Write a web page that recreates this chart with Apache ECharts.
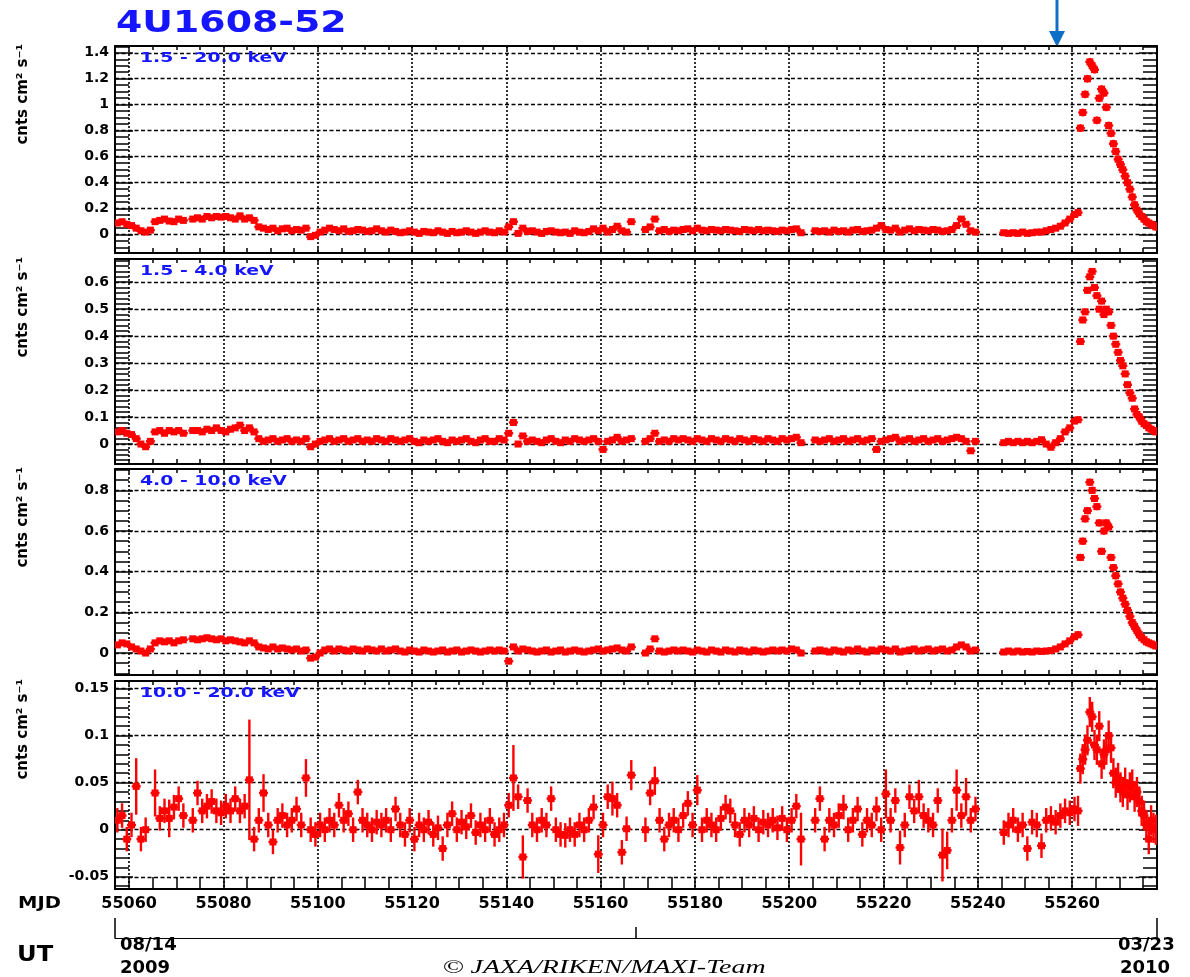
<!DOCTYPE html>
<html>
<head>
<meta charset="utf-8">
<script src="https://cdn.jsdelivr.net/npm/echarts@6/dist/echarts.min.js"></script>
<style>
  html, body { margin: 0; padding: 0; background: #fff; }
  #chart { width: 1190px; height: 977px; }
</style>
</head>
<body>
<div id="chart"></div>
<script>
// ---- time bins (MJD) ----
const dayStart = 55057, dayEnd = 55260;   // 1-day bins
const peakStart = 55261, peakEnd = 55278; // half-day bins over the outburst
const xMin = 55057, xMax = 55278;         // 2009-08-14 .. 2010-03-23
const xMajor = [55060, 55080, 55100, 55120, 55140, 55160, 55180, 55200, 55220, 55240, 55260];
const utTicks = [55057, 55167.5, 55278];

const dailyMjd = [];
for (let d = dayStart; d <= dayEnd; d++) dailyMjd.push(d + 0.5);
const peakMjd = [];
for (let d = peakStart; d < peakEnd; d += 0.5) peakMjd.push(d + 0.25);

const bandNames = ['1.5 - 20.0 keV', '1.5 - 4.0 keV', '4.0 - 10.0 keV', '10.0 - 20.0 keV'];

// ---- 1.5-20 keV ----
const band1Daily = [
  0.09, 0.10, 0.08, 0.07, 0.05, 0.03, 0.02, 0.035, 0.10, 0.11,
  0.12, 0.105, 0.10, 0.12, 0.11, null, 0.12, 0.13, 0.12, 0.14,
  0.13, 0.14, 0.135, 0.14, 0.13, 0.12, 0.145, 0.12, 0.13, 0.11,
  0.06, 0.05, 0.04, 0.05, 0.03, 0.045, 0.05, 0.03, 0.04, 0.035,
  0.05, -0.015, -0.005, 0.02, 0.035, 0.05, 0.04, 0.03, 0.045, 0.025,
  0.03, 0.04, 0.035, 0.025, 0.03, 0.045, 0.03, 0.02, 0.035, 0.025,
  0.015, 0.02, 0.03, 0.02, 0.01, 0.025, 0.02, 0.015, 0.03, 0.02,
  0.01, 0.025, 0.015, 0.02, 0.03, 0.02, 0.01, 0.02, 0.03, 0.02,
  0.015, 0.03, 0.02, 0.06, 0.10, 0.01, 0.05, 0.025, 0.03, 0.02,
  0.01, 0.025, 0.03, 0.02, 0.015, 0.02, 0.01, 0.03, 0.02, 0.015,
  0.025, 0.045, 0.03, 0.05, 0.02, 0.04, 0.065, 0.03, 0.02, 0.10,
  null, null, 0.04, 0.06, 0.12, 0.03, 0.04, 0.025, 0.035, 0.03,
  0.04, 0.045, 0.03, 0.05, 0.035, 0.03, 0.04, 0.035, 0.03, 0.04,
  0.035, 0.03, 0.025, 0.04, 0.035, 0.03, 0.04, 0.03, 0.035, 0.03,
  0.025, 0.035, 0.03, 0.04, 0.045, 0.015, null, null, 0.03, 0.025,
  0.03, 0.02, 0.035, 0.025, 0.03, 0.02, 0.035, 0.04, 0.025, 0.03,
  0.035, 0.05, 0.07, 0.04, 0.035, 0.05, 0.02, 0.035, 0.045, 0.03,
  0.04, 0.035, 0.03, 0.04, 0.035, 0.025, 0.03, 0.04, 0.07, 0.12,
  0.08, 0.03, 0.02, null, null, null, null, null, 0.015, 0.01,
  0.015, 0.01, 0.02, 0.01, 0.015, 0.02, 0.02, 0.03, 0.04, 0.05,
  0.065, 0.09, 0.12, 0.155
];
const band1Peak = [
  0.17, 0.82, 0.94, 1.08, 1.20, 1.33, 1.30, 1.27, 0.88, 1.05,
  1.12, 1.09, 0.98, 0.84, 0.78, 0.70, 0.64, 0.58, 0.54, 0.50,
  0.45, 0.40, 0.35, 0.29, 0.23, 0.19, 0.16, 0.14, 0.12, 0.10,
  0.09, 0.08, 0.07, 0.06
];

// ---- 1.5-4 keV ----
const band2Daily = [
  0.045, 0.05, 0.04, 0.035, 0.02, 0.0, -0.01, 0.01, 0.045, 0.05,
  0.04, 0.05, 0.045, 0.05, 0.04, null, 0.05, 0.05, 0.045, 0.055,
  0.05, 0.06, 0.05, 0.045, 0.055, 0.06, 0.07, 0.05, 0.06, 0.045,
  0.02, 0.01, 0.015, 0.02, 0.01, 0.015, 0.02, 0.01, 0.015, 0.01,
  0.02, -0.01, 0.0, 0.01, 0.015, 0.02, 0.01, 0.015, 0.02, 0.01,
  0.015, 0.02, 0.01, 0.015, 0.01, 0.02, 0.015, 0.01, 0.02, 0.015,
  0.01, 0.015, 0.02, 0.01, 0.005, 0.015, 0.01, 0.015, 0.02, 0.01,
  0.005, 0.015, 0.01, 0.015, 0.02, 0.01, 0.005, 0.015, 0.02, 0.01,
  0.01, 0.02, 0.015, 0.04, 0.08, 0.0, 0.03, 0.01, 0.015, 0.01,
  0.005, 0.015, 0.02, 0.01, 0.005, 0.015, 0.01, 0.02, 0.015, 0.01,
  0.015, 0.02, 0.01, -0.02, 0.01, 0.015, 0.025, 0.01, 0.015, 0.02,
  null, null, 0.01, 0.02, 0.04, 0.01, 0.015, 0.01, 0.02, 0.015,
  0.02, 0.015, 0.01, 0.02, 0.015, 0.01, 0.02, 0.015, 0.01, 0.02,
  0.015, 0.01, 0.02, 0.015, 0.01, 0.02, 0.015, 0.01, 0.02, 0.015,
  0.01, 0.02, 0.015, 0.02, 0.025, 0.005, null, null, 0.015, 0.01,
  0.015, 0.02, 0.01, 0.015, 0.02, 0.01, 0.015, 0.02, 0.01, 0.015,
  0.02, -0.02, 0.01, 0.015, 0.02, 0.025, 0.01, 0.015, 0.02, 0.01,
  0.015, 0.02, 0.01, 0.015, 0.02, 0.01, 0.015, 0.02, 0.025, 0.02,
  0.01, -0.025, 0.01, null, null, null, null, null, 0.005, 0.01,
  0.005, 0.01, 0.005, 0.01, 0.005, 0.01, 0.016, 0.0, -0.012, 0.005,
  0.02, 0.045, 0.06, 0.085
];
const band2Peak = [
  0.09, 0.38, 0.46, 0.49, 0.57, 0.62, 0.64, 0.58, 0.55, 0.50,
  0.53, 0.48, 0.50, 0.49, 0.44, 0.40, 0.37, 0.34, 0.31, 0.29,
  0.26, 0.22, 0.19, 0.17, 0.13, 0.11, 0.10, 0.085, 0.075, 0.07,
  0.06, 0.055, 0.05, 0.045
];

// ---- 4-10 keV ----
const band3Daily = [
  0.04, 0.05, 0.045, 0.03, 0.02, 0.01, 0.0, 0.02, 0.05, 0.06,
  0.055, 0.06, 0.05, 0.06, 0.065, null, 0.07, 0.065, 0.07, 0.075,
  0.07, 0.065, 0.07, 0.06, 0.065, 0.06, 0.055, 0.05, 0.06, 0.05,
  0.03, 0.025, 0.02, 0.03, 0.02, 0.025, 0.02, 0.015, 0.02, 0.01,
  0.015, -0.025, -0.02, 0.0, 0.015, 0.02, 0.01, 0.02, 0.015, 0.01,
  0.02, 0.015, 0.01, 0.02, 0.015, 0.01, 0.02, 0.01, 0.015, 0.02,
  0.01, 0.005, 0.015, 0.01, 0.005, 0.015, 0.01, 0.005, 0.01, 0.015,
  0.005, 0.01, 0.015, 0.005, 0.01, 0.015, 0.01, 0.005, 0.01, 0.015,
  0.01, 0.015, 0.01, -0.04, 0.03, 0.01, 0.02, 0.015, 0.01, 0.005,
  0.01, 0.015, 0.005, 0.01, 0.015, 0.005, 0.01, 0.015, 0.01, 0.005,
  0.01, 0.015, 0.02, 0.01, 0.015, 0.02, 0.025, 0.015, 0.01, 0.03,
  null, null, 0.0, 0.02, 0.07, 0.01, 0.005, 0.01, 0.015, 0.01,
  0.015, 0.01, 0.005, 0.015, 0.01, 0.005, 0.015, 0.01, 0.005, 0.015,
  0.01, 0.005, 0.015, 0.01, 0.005, 0.015, 0.01, 0.005, 0.01, 0.015,
  0.01, 0.015, 0.01, 0.02, 0.015, 0.0, null, null, 0.01, 0.015,
  0.01, 0.005, 0.015, 0.01, 0.005, 0.015, 0.01, 0.02, 0.01, 0.005,
  0.015, 0.01, 0.02, 0.015, 0.01, 0.02, 0.005, 0.01, 0.015, 0.02,
  0.01, 0.015, 0.02, 0.01, 0.015, 0.02, 0.01, 0.015, 0.03, 0.04,
  0.03, 0.01, 0.015, null, null, null, null, null, 0.005, 0.01,
  0.005, 0.01, 0.005, 0.008, 0.005, 0.01, 0.008, 0.01, 0.012, 0.02,
  0.03, 0.045, 0.06, 0.08
];
const band3Peak = [
  0.09, 0.47, 0.55, 0.66, 0.70, 0.84, 0.80, 0.76, 0.72, 0.64,
  0.50, 0.60, 0.64, 0.62, 0.47, 0.42, 0.38, 0.34, 0.30, 0.27,
  0.24, 0.21, 0.18, 0.15, 0.13, 0.11, 0.09, 0.075, 0.065, 0.055,
  0.05, 0.045, 0.04, 0.035
];

// ---- 10-20 keV ----
const band4Daily = [
  0.01, 0.015, -0.01, 0.005, 0.046, -0.01, 0.0, null, 0.039, 0.012,
  0.02, 0.012, 0.024, 0.033, 0.015, null, 0.01, 0.039, 0.02, 0.025,
  0.03, 0.02, 0.018, 0.025, 0.02, 0.033, 0.02, 0.025, 0.053, -0.01,
  0.01, 0.039, 0.005, -0.013, 0.01, 0.015, 0.005, 0.01, 0.022, 0.005,
  0.055, 0.0, -0.005, 0.005, 0.0, 0.01, 0.005, 0.026, 0.01, 0.017,
  0.0, 0.04, 0.01, 0.005, 0.0, 0.008, 0.005, 0.01, 0.0, 0.022,
  0.005, -0.005, 0.01, -0.01, 0.005, 0.0, 0.008, -0.005, 0.002, -0.02,
  0.005, 0.017, 0.0, 0.008, 0.003, 0.015, -0.003, 0.005, 0.0, 0.01,
  -0.005, 0.0, 0.005, 0.026, 0.055, 0.035, -0.029, 0.031, 0.005, 0.0,
  0.01, 0.005, 0.033, 0.0, -0.005, -0.006, 0.0, -0.005, 0.005, 0.0,
  0.01, 0.024, -0.026, 0.005, 0.035, 0.033, 0.026, -0.024, 0.001, 0.058,
  null, null, 0.0, 0.039, 0.052, 0.01, -0.01, 0.005, 0.01, 0.0,
  0.015, 0.028, 0.005, 0.042, 0.0, 0.01, 0.005, 0.0, 0.012, 0.024,
  0.02, 0.005, -0.005, 0.01, 0.005, 0.012, 0.0, 0.008, 0.005, 0.01,
  0.002, 0.012, 0.0, 0.01, 0.025, -0.01, null, null, 0.01, 0.033,
  -0.01, 0.01, 0.005, 0.015, 0.024, 0.0, 0.01, 0.022, -0.005, 0.01,
  0.005, 0.022, 0.0, 0.038, 0.01, 0.031, -0.019, 0.005, 0.035, 0.02,
  0.035, 0.015, 0.01, 0.005, 0.031, -0.027, -0.022, 0.01, 0.042, 0.015,
  0.035, 0.01, 0.022, null, null, null, null, null, -0.003, 0.005,
  0.01, 0.0, 0.005, -0.02, 0.008, 0.005, -0.017, 0.01, 0.012, 0.008,
  0.015, 0.02, 0.018, 0.022
];
const band4Peak = [
  0.02, 0.065, 0.075, 0.085, 0.095, 0.125, 0.12, 0.09, 0.085, 0.11,
  0.07, 0.08, 0.085, 0.10, 0.087, 0.06, 0.05, 0.055, 0.045, 0.04,
  0.05, 0.037, 0.045, 0.048, 0.035, 0.04, 0.03, 0.02, 0.015, 0.005,
  -0.01, 0.01, 0.002, 0.0
];

// 1-sigma errors: typical per band, plus the days with visibly longer bars in 10-20 keV
const errDaily = [0.012, 0.006, 0.009, 0.013];
const errPeak = [0.03, 0.012, 0.018, 0.016];
const err4Wide = {
  55061: 0.03, 55065: 0.025, 55068: 0.02, 55085: 0.064, 55088: 0.02, 55097: 0.02,
  55141: 0.035, 55143: 0.023, 55159: 0.02, 55162: 0.018, 55166: 0.016, 55171: 0.015,
  55180: 0.016, 55202: 0.028, 55220: 0.026, 55223: 0.018, 55227: 0.018, 55232: 0.028,
  55233: 0.02, 55235: 0.022, 55237: 0.02
};

// ---- axes ----
const yMin = [-0.141, -0.074, -0.108, -0.063];
const yMax = [1.452, 0.686, 0.905, 0.158];
const yMajor = [
  [0, 0.2, 0.4, 0.6, 0.8, 1, 1.2, 1.4],
  [0, 0.1, 0.2, 0.3, 0.4, 0.5, 0.6],
  [0, 0.2, 0.4, 0.6, 0.8],
  [-0.05, 0, 0.05, 0.1, 0.15]
];
const yMinorStep = [0.05, 0.02, 0.05, 0.01];

const panelTop = [46, 259, 469, 681];
const panelBottom = [253, 464, 675, 889];
const plotLeft = 115, plotRight = 1157;

const RED = '#ff0000';
const BLUE = '#1515ff';
const NUM_FONT = 'DejaVu Sans';

function stepTicks(lo, hi, step, skip) {
  const out = [];
  for (let k = Math.ceil(lo / step - 1e-6); k * step <= hi + 1e-9; k++) {
    const v = Math.round(k * step * 1e6) / 1e6;
    if (!skip.some(s => Math.abs(s - v) < 1e-6)) out.push(v);
  }
  return out;
}
const xAll = stepTicks(xMin, xMax - 1, 5, []);
const fmt = v => String(Math.round(v * 1000) / 1000);

function buildData(daily, peak, b) {
  const out = [];
  daily.forEach((v, k) => {
    if (v == null) return;
    const day = dayStart + k;
    const e = b === 3 && err4Wide[day] ? err4Wide[day] : errDaily[b];
    out.push([dailyMjd[k], v, e, 0.5]);
  });
  peak.forEach((v, k) => {
    if (v == null) return;
    out.push([peakMjd[k], v, errPeak[b], 0.25]);
  });
  return out;
}
const bandData = [
  buildData(band1Daily, band1Peak, 0),
  buildData(band2Daily, band2Peak, 1),
  buildData(band3Daily, band3Peak, 2),
  buildData(band4Daily, band4Peak, 3)
];

function renderPoint(params, api) {
  const x = api.value(0), y = api.value(1), e = api.value(2), hw = api.value(3);
  const c = api.coord([x, y]);
  const t = api.coord([x, y + e]);
  const b = api.coord([x, y - e]);
  const l = api.coord([x - hw, y]);
  const r = api.coord([x + hw, y]);
  const line = { stroke: RED, lineWidth: 2.4 };
  return {
    type: 'group',
    children: [
      { type: 'line', shape: { x1: c[0], y1: t[1], x2: c[0], y2: b[1] }, style: line },
      { type: 'line', shape: { x1: Math.min(l[0], c[0] - 4.5), y1: c[1], x2: Math.max(r[0], c[0] + 4.5), y2: c[1] }, style: line },
      { type: 'rect', shape: { x: c[0] - 3.5, y: c[1] - 3.5, width: 7, height: 7 }, style: { fill: RED } }
    ]
  };
}

const grids = [], xAxes = [], yAxes = [], series = [], texts = [];

for (let i = 0; i < 4; i++) {
  const last = i === 3;
  grids.push({
    left: plotLeft, width: plotRight - plotLeft,
    top: panelTop[i], height: panelBottom[i] - panelTop[i],
    containLabel: false, outerBoundsMode: 'none'
  });
  // bottom frame with all 5-day ticks (labels only on the last panel)
  xAxes.push({
    gridIndex: i, type: 'value', position: 'bottom', min: xMin, max: xMax,
    axisLine: { show: true, onZero: false, lineStyle: { color: '#000', width: 2 } },
    axisTick: { show: true, inside: true, length: last ? 12 : 5, customValues: xAll, lineStyle: { color: '#000', width: 1.5 } },
    axisLabel: { show: last, customValues: xMajor, margin: 7, color: '#000', fontFamily: NUM_FONT, fontWeight: 'bold', fontSize: 16, formatter: v => String(v) },
    splitLine: { show: false }
  });
  // dotted vertical grid at the 20-day marks
  xAxes.push({
    gridIndex: i, type: 'value', position: 'bottom', min: xMin, max: xMax,
    axisLine: { show: false, onZero: false },
    axisTick: { show: false, customValues: xMajor },
    axisLabel: { show: false },
    splitLine: { show: true, lineStyle: { color: '#000', width: 1.6, type: [2, 2] } }
  });
  // top frame
  xAxes.push({
    gridIndex: i, type: 'value', position: 'top', min: xMin, max: xMax,
    axisLine: { show: true, onZero: false, lineStyle: { color: '#000', width: 2 } },
    axisTick: { show: true, inside: true, length: 4, customValues: xAll, lineStyle: { color: '#000', width: 1.5 } },
    axisLabel: { show: false },
    splitLine: { show: false }
  });

  const minors = stepTicks(yMin[i], yMax[i], yMinorStep[i], yMajor[i]);
  const yBase = { gridIndex: i, type: 'value', min: yMin[i], max: yMax[i] };
  yAxes.push(Object.assign({}, yBase, {
    position: 'left',
    axisLine: { show: true, onZero: false, lineStyle: { color: '#000', width: 2 } },
    axisTick: { show: true, inside: true, length: 18, customValues: yMajor[i], lineStyle: { color: '#000', width: 1.5 } },
    axisLabel: { show: true, customValues: yMajor[i], margin: 6, color: '#000', fontFamily: NUM_FONT, fontWeight: 'bold', fontSize: 14, formatter: fmt },
    splitLine: { show: true, lineStyle: { color: '#000', width: 1.3, type: [4, 2.5] } }
  }));
  yAxes.push(Object.assign({}, yBase, {
    position: 'left',
    axisLine: { show: false, onZero: false },
    axisTick: { show: true, inside: true, length: 14, customValues: minors, lineStyle: { color: '#000', width: 1.5 } },
    axisLabel: { show: false }, splitLine: { show: false }
  }));
  yAxes.push(Object.assign({}, yBase, {
    position: 'right',
    axisLine: { show: true, onZero: false, lineStyle: { color: '#000', width: 2 } },
    axisTick: { show: true, inside: true, length: 18, customValues: yMajor[i], lineStyle: { color: '#000', width: 1.5 } },
    axisLabel: { show: false }, splitLine: { show: false }
  }));
  yAxes.push(Object.assign({}, yBase, {
    position: 'right',
    axisLine: { show: false, onZero: false },
    axisTick: { show: true, inside: true, length: 14, customValues: minors, lineStyle: { color: '#000', width: 1.5 } },
    axisLabel: { show: false }, splitLine: { show: false }
  }));

  series.push({
    type: 'custom', name: bandNames[i],
    xAxisIndex: i * 3, yAxisIndex: i * 4,
    renderItem: renderPoint, clip: true, z: 5,
    encode: { x: 0, y: 1 },
    data: bandData[i]
  });

  texts.push({
    type: 'text', x: 140, y: panelTop[i] + 12, scaleX: 1.3, z: 10,
    style: { text: bandNames[i], fill: BLUE, font: 'bold 14.5px "DejaVu Sans"', verticalAlign: 'middle' }
  });
  texts.push({
    type: 'text', x: 23, y: panelTop[i] - 2, rotation: Math.PI / 2,
    style: { text: 'cnts cm² s⁻¹', fill: '#000', font: 'bold 15px "DejaVu Sans"', align: 'right', verticalAlign: 'middle' }
  });
}

// UT date axis under the plot
grids.push({ left: plotLeft, width: plotRight - plotLeft, top: 937, height: 1, containLabel: false, outerBoundsMode: 'none' });
xAxes.push({
  gridIndex: 4, type: 'value', position: 'bottom', min: xMin, max: xMax,
  axisLine: { show: true, onZero: false, lineStyle: { color: '#000', width: 1.2 } },
  axisTick: { show: true, inside: true, length: 20, customValues: [utTicks[0], utTicks[2]], lineStyle: { color: '#000', width: 1.5 } },
  axisLabel: { show: false }, splitLine: { show: false }
});
xAxes.push({
  gridIndex: 4, type: 'value', position: 'bottom', min: xMin, max: xMax,
  axisLine: { show: false, onZero: false },
  axisTick: { show: true, inside: true, length: 11, customValues: [utTicks[1]], lineStyle: { color: '#000', width: 1.5 } },
  axisLabel: { show: false }, splitLine: { show: false }
});
yAxes.push({ gridIndex: 4, type: 'value', min: 0, max: 1, show: false });

const bold = size => 'bold ' + size + 'px "DejaVu Sans"';
texts.push(
  { type: 'text', x: 116, y: 24, scaleX: 1.22, style: { text: '4U1608-52', fill: BLUE, font: bold(31), verticalAlign: 'middle' } },
  { type: 'text', x: 18, y: 904, scaleX: 1.3, style: { text: 'MJD', fill: '#000', font: bold(15), verticalAlign: 'middle' } },
  { type: 'text', x: 17, y: 955, scaleX: 1.1, style: { text: 'UT', fill: '#000', font: bold(22), verticalAlign: 'middle' } },
  { type: 'text', x: 120, y: 945, style: { text: '08/14', fill: '#000', font: bold(18), verticalAlign: 'middle' } },
  { type: 'text', x: 120, y: 968, style: { text: '2009', fill: '#000', font: bold(18), verticalAlign: 'middle' } },
  { type: 'text', x: 1118, y: 945, style: { text: '03/23', fill: '#000', font: bold(18), verticalAlign: 'middle' } },
  { type: 'text', x: 1120, y: 968, style: { text: '2010', fill: '#000', font: bold(18), verticalAlign: 'middle' } },
  { type: 'text', x: 604, y: 968, scaleX: 1.55, style: { text: '© JAXA/RIKEN/MAXI-Team', fill: '#000', font: 'italic 18px "Liberation Serif"', align: 'center', verticalAlign: 'middle' } },
  // marker arrow at the top
  { type: 'line', shape: { x1: 1057, y1: 0, x2: 1057, y2: 33 }, style: { stroke: '#0f6fc6', lineWidth: 3 } },
  { type: 'polygon', shape: { points: [[1049, 31], [1065, 31], [1057, 47]] }, style: { fill: '#0f6fc6' } }
);

const chart = echarts.init(document.getElementById('chart'), null, { renderer: 'canvas' });
chart.setOption({
  animation: false,
  backgroundColor: '#fff',
  grid: grids,
  xAxis: xAxes,
  yAxis: yAxes,
  series: series,
  graphic: { elements: texts }
});
</script>
</body>
</html>
